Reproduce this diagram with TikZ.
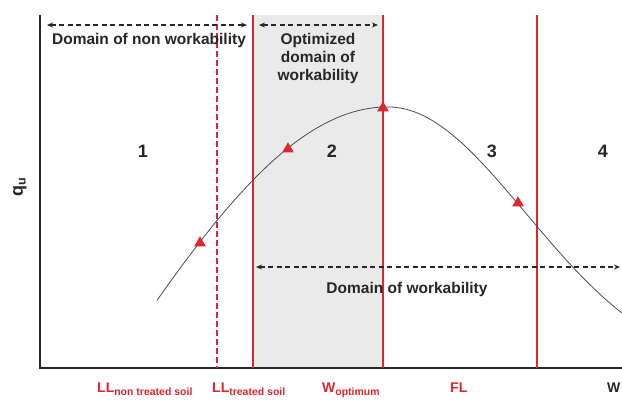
\documentclass[tikz,border=0pt]{standalone}
\usepackage{fontspec}
\setmainfont{Liberation Sans}
\usetikzlibrary{arrows.meta,shapes.geometric}
\definecolor{limred}{RGB}{222,38,48}
\definecolor{txtgray}{RGB}{38,38,38}
\definecolor{zonegray}{RGB}{234,234,234}
\newcommand{\lowpart}[1]{\raisebox{-0.5ex}{\fontsize{10.5}{11}\selectfont #1}}

\begin{document}
\begin{tikzpicture}[x=1pt,y=-1pt,
axis/.style={line width=2.2pt,draw=txtgray},
limit/.style={draw=limred,line width=1.2pt},
domarrow/.style={
	dash pattern=on 5pt off 3.5pt,line width=1.4pt,draw=txtgray,
	{Stealth[length=6pt,width=5pt]}-{Stealth[length=6pt,width=5pt]}},
zone/.style={font=\bfseries\fontsize{18}{18}\selectfont,text=txtgray},
dtext/.style={font=\bfseries\fontsize{15.5}{18}\selectfont,text=txtgray,align=center},
limlabel/.style={font=\bfseries\fontsize{14}{14}\selectfont,text=limred,anchor=base west,inner sep=0pt},
testpt/.style={regular polygon,regular polygon sides=3,fill=limred,inner sep=0pt,minimum size=13.5pt},
]
\useasboundingbox (0,0) rectangle (622,402);
% optimized zone
\fill[zonegray] (253,15) rectangle (383,368);

% axes
\coordinate (axtop) at (40,15);
\coordinate (origin) at (40,368);
\coordinate (axend) at (640,368);
\draw[axis] (axtop) -- (origin) -- (axend);
\node[rotate=90,font=\bfseries\fontsize{18}{18}\selectfont,text=txtgray] (qu) at (20,187) {q\textsubscript{u}};

% limits
\coordinate (llntop) at (217,15); \coordinate (llnbot) at (217,368);
\coordinate (lltop) at (253,15);  \coordinate (llbot) at (253,368);
\coordinate (wtop) at (383,15);   \coordinate (wbot) at (383,368);
\coordinate (fltop) at (537,15);  \coordinate (flbot) at (537,368);
\draw[limit,dash pattern=on 6pt off 3pt] (llntop) -- (llnbot);
\draw[limit] (lltop) -- (llbot);
\draw[limit] (wtop) -- (wbot);
\draw[limit] (fltop) -- (flbot);

% curve (left and right halves)
\draw[line width=0.8pt,draw=black!70] plot[domain=157:388,samples=60]
  (\x,{107+700*(1-exp(-pow((\x-388)/100,2)/16.5))});
\draw[line width=0.8pt,draw=black!70] plot[domain=388:622,samples=60]
  (\x,{107+270*(1-exp(-pow((\x-388)/100,2)/3.8))});
\node[testpt] (t1) at (200,243) {};
\node[testpt] (t2) at (288,149) {};
\node[testpt] (t3) at (383,108) {};
\node[testpt] (t4) at (518,203) {};

% domains
\coordinate (nwl) at (47,25);  \coordinate (nwr) at (247,25);
\coordinate (owl) at (259,25); \coordinate (owr) at (378,25);
\coordinate (wkl) at (256,267); \coordinate (wkr) at (620,267);
\draw[domarrow] (nwl) -- (nwr);
\draw[domarrow] (owl) -- (owr);
\draw[domarrow] (wkl) -- (wkr);
\node[dtext] (nwtext) at (149,40) {Domain of non workability};
\node[dtext] (owtext) at (318,58) {Optimized\\domain of\\workability};
\node[dtext] (wktext) at (407,289) {Domain of workability};

% zones
\node[zone] (z1) at (143,151) {1};
\node[zone] (z2) at (332,151) {2};
\node[zone] (z3) at (492,151) {3};
\node[zone] (z4) at (603,151) {4};

% labels under axis
\node[limlabel] (lln) at (97,392) {LL\lowpart{non treated soil}};
\node[limlabel] (llt) at (212,392) {LL\lowpart{treated soil}};
\node[limlabel] (wopt) at (322,392) {W\lowpart{optimum}};
\node[limlabel] (fl) at (450,392) {FL};
\node[limlabel,text=txtgray] (wax) at (607,392) {W};
\end{tikzpicture}
\end{document}
